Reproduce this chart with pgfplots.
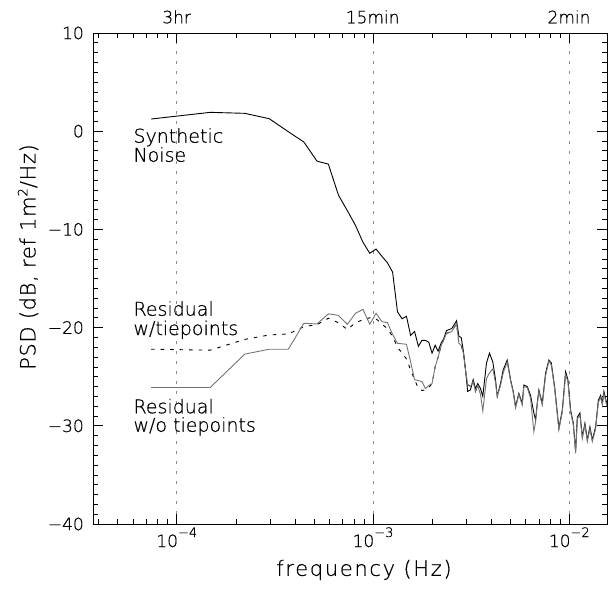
\documentclass[border=0pt]{standalone}
\usepackage{fontspec}
\setmainfont{DejaVuSans-ExtraLight.ttf}[FakeBold=0.6]
\usepackage{pgfplots}
\pgfplotsset{compat=1.18}
\begin{document}
\begin{tikzpicture}
\begin{axis}[
  at={(0pt,0pt)}, anchor=south west,
  scale only axis,
  width=514pt, height=491pt,
  xmode=log,
  xmin=3.741e-5, xmax=1.556e-2,
  ymin=-40, ymax=10,
  xtick={1e-4,1e-3,1e-2},
  xticklabels={{10\raisebox{10pt}{\fontsize{13}{13}\selectfont −4}},{10\raisebox{10pt}{\fontsize{13}{13}\selectfont −3}},{10\raisebox{10pt}{\fontsize{13}{13}\selectfont −2}}},
  minor xtick={4e-5,5e-5,6e-5,7e-5,8e-5,9e-5,2e-4,3e-4,4e-4,5e-4,6e-4,7e-4,8e-4,9e-4,2e-3,3e-3,4e-3,5e-3,6e-3,7e-3,8e-3,9e-3},
  ytick={-40,-30,-20,-10,0,10},
  yticklabels={−40,−30,−20,−10,0,10},
  minor ytick={-39,-38,...,9},
  tick align=inside,
  major tick length=10pt, minor tick length=5pt,
  every tick/.style={black, line width=0.7pt},
  axis line style={line width=0.8pt},
  xmajorgrids,
  major x grid style={black!45, line width=0.9pt, dash pattern=on 3pt off 7pt},
  tick label style={font=\fontsize{17}{17}\selectfont},
  xticklabel style={anchor=base, yshift=-23pt, inner sep=0pt},
  yticklabel style={anchor=east, inner sep=0pt, xshift=-9pt},
]
% Synthetic noise (black)
\addplot[black, line width=0.9pt] coordinates {
(7.40e-5,1.24) (1.48e-4,1.92) (2.22e-4,1.82) (2.96e-4,1.27) (3.70e-4,-0.05)
(4.44e-4,-1.1) (5.18e-4,-3.05) (5.92e-4,-3.35) (6.66e-4,-6.5) (7.40e-4,-8.1)
(8.14e-4,-9.6) (8.88e-4,-11.3) (9.62e-4,-12.43) (1.036e-3,-12.0) (1.110e-3,-12.75)
(1.184e-3,-13.4) (1.258e-3,-14.35) (1.332e-3,-18.4) (1.406e-3,-19.1) (1.480e-3,-18.85)
(1.554e-3,-20.8) (1.628e-3,-20.4) (1.702e-3,-21.9) (1.776e-3,-21.3) (1.850e-3,-21.3)
(1.924e-3,-21.5) (1.998e-3,-22.6) (2.072e-3,-21.8) (2.146e-3,-22.4) (2.220e-3,-21.6)
(2.294e-3,-21.1) (2.368e-3,-20.3) (2.442e-3,-20.2) (2.516e-3,-20.1) (2.590e-3,-19.7)
(2.664e-3,-19.3) (2.738e-3,-20.9) (2.812e-3,-21.0) (2.886e-3,-22.4) (2.960e-3,-24.3)
(3.034e-3,-26.5) (3.135e-3,-26.35) (3.237e-3,-25.3) (3.325e-3,-26.2) (3.417e-3,-25.7)
(3.527e-3,-26.2) (3.624e-3,-27.0) (3.785e-3,-23.6) (3.921e-3,-22.6) (4.075e-3,-23.5)
(4.207e-3,-25.3) (4.292e-3,-27.0) (4.461e-3,-25.7) (4.605e-3,-24.3) (4.827e-3,-23.3)
(5.018e-3,-25.3) (5.180e-3,-26.5) (5.321e-3,-28.05) (5.532e-3,-26.7) (5.757e-3,-27.7)
(5.866e-3,-25.85) (6.105e-3,-26.0) (6.347e-3,-26.9) (6.597e-3,-28.7) (6.731e-3,-29.4)
(6.865e-3,-27.7) (6.996e-3,-26.35) (7.280e-3,-27.7) (7.569e-3,-24.65) (7.868e-3,-23.3)
(8.094e-3,-23.6) (8.414e-3,-26.0) (8.849e-3,-30.25) (9.211e-3,-28.4) (9.574e-3,-24.5)
(9.838e-3,-25.3) (1.0153e-2,-28.4) (1.0481e-2,-29.75) (1.0767e-2,-32.6) (1.0985e-2,-29.1)
(1.1326e-2,-28.7) (1.1649e-2,-31.1) (1.2010e-2,-29.75) (1.2352e-2,-31.45) (1.2735e-2,-30.1)
(1.3097e-2,-31.45) (1.3617e-2,-30.1) (1.4057e-2,-27.4) (1.4441e-2,-26.9) (1.4733e-2,-27.7)
(1.5010e-2,-26.5) (1.5494e-2,-27.7) (1.5812e-2,-27.2) (1.62e-2,-28.0)
};
% Residual with tiepoints (dashed)
\addplot[black, line width=0.9pt, dash pattern=on 3.5pt off 6pt] coordinates {
(7.40e-5,-22.2) (1.48e-4,-22.3) (2.22e-4,-21.2) (2.96e-4,-20.75) (3.70e-4,-20.65)
(4.44e-4,-19.9) (5.18e-4,-19.7) (5.92e-4,-19.05) (6.66e-4,-19.5) (7.40e-4,-20.2)
(8.14e-4,-19.5) (8.88e-4,-19.2) (9.62e-4,-19.0) (1.036e-3,-19.1) (1.110e-3,-19.66)
(1.184e-3,-20.1) (1.258e-3,-20.9) (1.332e-3,-22.0) (1.406e-3,-22.6) (1.480e-3,-23.2)
(1.554e-3,-24.3) (1.628e-3,-25.3) (1.702e-3,-26.2) (1.776e-3,-26.4) (1.850e-3,-26.35)
(1.924e-3,-26.1) (1.998e-3,-25.7) (2.072e-3,-24.0) (2.146e-3,-23.0) (2.220e-3,-21.9)
(2.294e-3,-21.2) (2.368e-3,-20.6) (2.442e-3,-20.5) (2.516e-3,-20.4) (2.590e-3,-20.0)
(2.664e-3,-19.6) (2.738e-3,-21.6) (2.812e-3,-21.8) (2.886e-3,-22.6) (2.960e-3,-24.3)
(3.034e-3,-25.8) (3.135e-3,-26.0) (3.237e-3,-25.5) (3.325e-3,-26.5) (3.417e-3,-25.9)
};
% Residual without tiepoints (gray)
\addplot[black!55, line width=0.9pt] coordinates {
(7.40e-5,-26.1) (1.48e-4,-26.1) (2.22e-4,-22.7) (2.96e-4,-22.2) (3.70e-4,-22.2)
(4.44e-4,-19.56) (5.18e-4,-19.63) (5.92e-4,-18.6) (6.66e-4,-18.75) (7.40e-4,-19.66)
(8.14e-4,-18.54) (8.88e-4,-18.14) (9.62e-4,-19.66) (1.036e-3,-18.54) (1.110e-3,-19.4)
(1.184e-3,-19.5) (1.258e-3,-20.7) (1.332e-3,-21.6) (1.406e-3,-21.65) (1.480e-3,-21.7)
(1.554e-3,-23.5) (1.628e-3,-25.3) (1.702e-3,-25.4) (1.776e-3,-25.5) (1.850e-3,-26.2)
(1.924e-3,-25.9) (1.998e-3,-25.7) (2.072e-3,-24.0) (2.146e-3,-23.0) (2.220e-3,-21.9)
(2.294e-3,-21.2) (2.368e-3,-20.6) (2.442e-3,-20.5) (2.516e-3,-20.4) (2.590e-3,-20.0)
(2.664e-3,-19.6) (2.738e-3,-21.6) (2.812e-3,-21.8) (2.886e-3,-22.6) (2.960e-3,-24.3)
(3.034e-3,-25.8) (3.135e-3,-26.0) (3.237e-3,-25.5) (3.325e-3,-26.5) (3.417e-3,-25.9)
(3.527e-3,-26.8) (3.624e-3,-28.5) (3.785e-3,-25.2) (3.921e-3,-24.6) (4.075e-3,-24.2)
(4.207e-3,-25.6) (4.292e-3,-27.0) (4.461e-3,-25.9) (4.605e-3,-24.6) (4.827e-3,-23.5)
(5.018e-3,-25.4) (5.180e-3,-26.6) (5.321e-3,-28.2) (5.532e-3,-26.8) (5.757e-3,-27.9)
(5.866e-3,-26.0) (6.105e-3,-26.1) (6.347e-3,-27.2) (6.597e-3,-30.6) (6.731e-3,-29.6)
(6.865e-3,-27.8) (6.996e-3,-26.5) (7.280e-3,-27.9) (7.569e-3,-24.9) (7.868e-3,-23.4)
(8.094e-3,-23.8) (8.414e-3,-26.2) (8.849e-3,-30.4) (9.211e-3,-28.6) (9.574e-3,-24.8)
(9.838e-3,-25.5) (1.0153e-2,-28.6) (1.0481e-2,-29.9) (1.0767e-2,-32.8) (1.0985e-2,-29.3)
(1.1326e-2,-28.9) (1.1649e-2,-31.3) (1.2010e-2,-29.9) (1.2352e-2,-31.6) (1.2735e-2,-30.3)
(1.3097e-2,-31.6) (1.3617e-2,-30.3) (1.4057e-2,-27.6) (1.4441e-2,-27.1) (1.4733e-2,-27.9)
(1.5010e-2,-26.7) (1.5494e-2,-27.9) (1.5812e-2,-27.4) (1.62e-2,-28.2)
};
\end{axis}
% top labels
\node[anchor=base, inner sep=0pt, font=\fontsize{17}{17}\selectfont] at (83.7pt,500.7pt) {3hr};
\node[anchor=base, inner sep=0pt, font=\fontsize{17}{17}\selectfont] at (279.7pt,500.7pt) {15min};
\node[anchor=base, inner sep=0pt, font=\fontsize{17}{17}\selectfont] at (476pt,500.7pt) {2min};
% axis titles
\node[rotate=90, inner sep=0pt, font=\fontsize{21}{21}\selectfont\addfontfeatures{LetterSpace=3}] at (-65pt,267pt) {PSD (dB, ref 1m\raisebox{8pt}{\fontsize{13}{13}\selectfont 2}/Hz)};
\node[inner sep=0pt, font=\fontsize{21}{21}\selectfont\addfontfeatures{LetterSpace=8}] at (271pt,-46pt) {frequency (Hz)};
% curve labels
\begin{scope}[every node/.style={anchor=base west, inner sep=0pt, font=\fontsize{19}{19}\selectfont}]
\node at (40.3pt,381.3pt) {Synthetic};
\node at (40.3pt,362.3pt) {Noise};
\node at (40.3pt,208.3pt) {Residual};
\node at (40.3pt,189pt) {w/tiepoints};
\node at (40.3pt,110.7pt) {Residual};
\node at (40.3pt,92.3pt) {w/o tiepoints};
\end{scope}
\pgfresetboundingbox
\path[use as bounding box] (-93pt,-66pt) rectangle (515pt,524pt);
\end{tikzpicture}
\end{document}
